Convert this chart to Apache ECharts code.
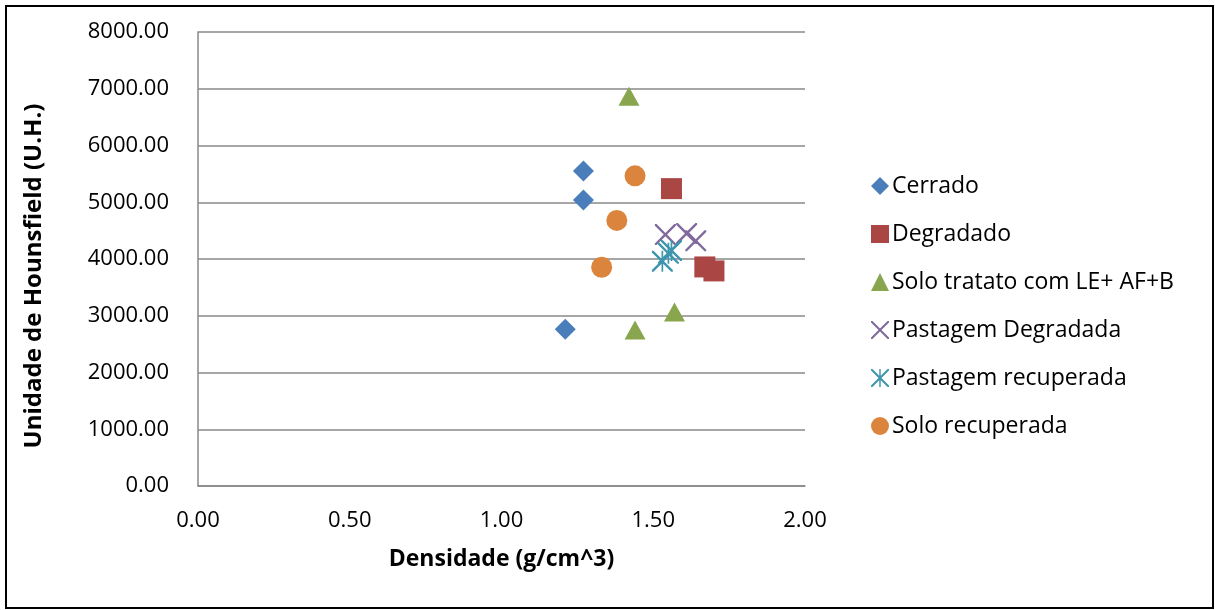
<!DOCTYPE html>
<html>
<head>
<meta charset="utf-8">
<script src="https://cdn.jsdelivr.net/npm/echarts@6/dist/echarts.min.js"></script>
<style>
html,body{margin:0;padding:0;background:#fff;}
#chart{width:1215px;height:610px;}
</style>
</head>
<body>
<div id="chart"></div>
<script>
// Data (density g/cm^3, Hounsfield units)
const seriesNames = ["Cerrado", "Degradado", "Solo tratato com LE+ AF+B", "Pastagem Degradada", "Pastagem recuperada", "Solo recuperada"];
const cerrado = [[1.27, 5550], [1.27, 5040], [1.21, 2760]];
const degradado = [[1.56, 5240], [1.67, 3860], [1.70, 3790]];
const soloTratato = [[1.42, 6870], [1.57, 3065], [1.44, 2750]];
const pastagemDegradada = [[1.54, 4430], [1.61, 4450], [1.64, 4320]];
const pastagemRecuperada = [[1.53, 3960], [1.55, 4100], [1.56, 4150]];
const soloRecuperada = [[1.44, 5465], [1.38, 4680], [1.33, 3855]];
const xTicks = [0, 0.5, 1.0, 1.5, 2.0];
const yTicks = [0, 1000, 2000, 3000, 4000, 5000, 6000, 7000, 8000];

const colors = ["#4A7EBB", "#AA4643", "#89A54E", "#80699B", "#3D96AE", "#DB843D"];
const crossPath = 'path://M0,0 L1.6,0 L10,8.4 L18.4,0 L20,0 L20,1.6 L11.6,10 L20,18.4 L20,20 L18.4,20 L10,11.6 L1.6,20 L0,20 L0,18.4 L8.4,10 L0,1.6 Z';
const starPath = 'path://M0,0 L1.6,0 L10,8.4 L18.4,0 L20,0 L20,1.6 L11.6,10 L20,18.4 L20,20 L18.4,20 L10,11.6 L1.6,20 L0,20 L0,18.4 L8.4,10 L0,1.6 Z M9.2,0 L10.8,0 L10.8,20 L9.2,20 Z';
const symbols = ['diamond', 'rect', 'triangle', crossPath, starPath, 'circle'];
const dataSets = [cerrado, degradado, soloTratato, pastagemDegradada, pastagemRecuperada, soloRecuperada];

const FONT = '"Open Sans", "Noto Sans", sans-serif';
const chart = echarts.init(document.getElementById('chart'));
chart.setOption({
  animation: false,
  color: colors,
  graphic: [{
    type: 'rect', silent: true, z: -1,
    shape: {x: 6, y: 6, width: 1207, height: 602},
    style: {fill: 'none', stroke: '#000', lineWidth: 2}
  }],
  grid: {left: 198, right: 410, top: 32, bottom: 124},
  legend: {
    orient: 'vertical',
    left: 866, top: 169,
    itemWidth: 18, itemHeight: 18, itemGap: 24,
    textStyle: {fontFamily: FONT, fontSize: 23, color: '#000', lineHeight: 24, padding: [0,0,0,-2]},
    data: seriesNames.map((n, i) => ({name: n, icon: symbols[i]}))
  },
  xAxis: {
    type: 'value', min: xTicks[0], max: xTicks[xTicks.length - 1], interval: 0.5,
    name: 'Densidade (g/cm^3)', nameLocation: 'middle', nameGap: 62,
    nameTextStyle: {fontFamily: FONT, fontSize: 23, fontWeight: 'bold', color: '#000'},
    axisLine: {show: true, lineStyle: {color: '#888', width: 1.5}},
    axisTick: {show: false},
    splitLine: {show: false},
    axisLabel: {fontFamily: FONT, fontSize: 22, color: '#000', margin: 24, formatter: v => v.toFixed(2)}
  },
  yAxis: {
    type: 'value', min: yTicks[0], max: yTicks[yTicks.length - 1], interval: 1000,
    name: 'Unidade de Hounsfield (U.H.)', nameLocation: 'middle', nameGap: 152,
    nameTextStyle: {fontFamily: FONT, fontSize: 24, fontWeight: 'bold', color: '#000', padding: [0, 34, 0, 0]},
    axisLine: {show: true, lineStyle: {color: '#888', width: 1.5}},
    axisTick: {show: false},
    splitLine: {show: true, lineStyle: {color: '#888', width: 1.5}},
    axisLabel: {fontFamily: FONT, fontSize: 22, color: '#000', margin: 29, formatter: v => v.toFixed(2)}
  },
  series: dataSets.map((d, i) => ({
    name: seriesNames[i],
    type: 'scatter',
    symbol: symbols[i],
    symbolSize: i === 2 ? [21, 19] : 21,
    data: d,
    itemStyle: {color: colors[i], opacity: 1}
  }))
});
</script>
</body>
</html>
